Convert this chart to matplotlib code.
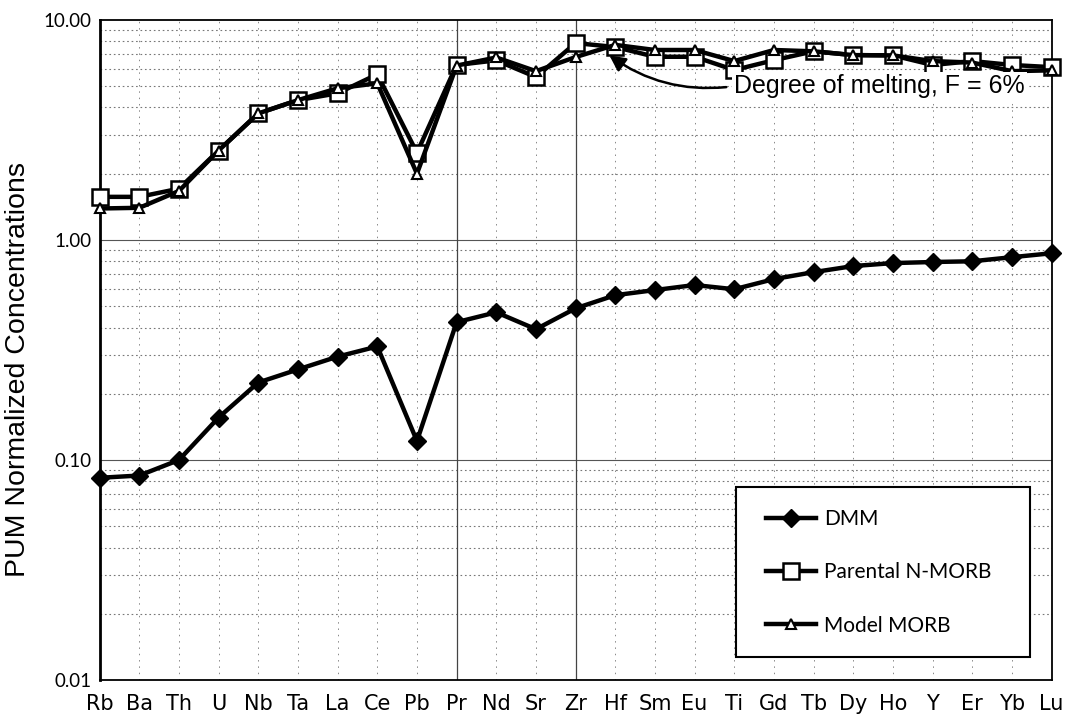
import numpy as np
import matplotlib.pyplot as plt
from matplotlib.patches import Rectangle

# trace elements, ordered by incompatibility
elements = ['Rb', 'Ba', 'Th', 'U', 'Nb', 'Ta', 'La', 'Ce', 'Pb', 'Pr', 'Nd', 'Sr', 'Zr',
            'Hf', 'Sm', 'Eu', 'Ti', 'Gd', 'Tb', 'Dy', 'Ho', 'Y', 'Er', 'Yb', 'Lu']

# PUM normalized concentrations
dmm = [0.083, 0.085, 0.100, 0.156, 0.225, 0.258, 0.295, 0.328, 0.122, 0.423, 0.469, 0.393, 0.489,
       0.561, 0.592, 0.624, 0.597, 0.664, 0.714, 0.761, 0.785, 0.794, 0.800, 0.835, 0.870]
parental_nmorb = [1.57, 1.57, 1.71, 2.55, 3.76, 4.32, 4.64, 5.66, 2.49, 6.24, 6.55, 5.50, 7.85,
                  7.53, 6.80, 6.80, 5.92, 6.56, 7.20, 6.92, 6.90, 6.24, 6.50, 6.24, 6.10]
model_morb = [1.39, 1.40, 1.67, 2.55, 3.76, 4.32, 4.89, 5.15, 2.00, 6.20, 6.75, 5.85, 6.78,
              7.70, 7.30, 7.30, 6.50, 7.30, 7.20, 6.92, 6.90, 6.50, 6.40, 5.85, 5.90]

x = np.arange(len(elements))

fig = plt.figure(figsize=(10.83, 7.27), dpi=100)
ax = fig.add_axes([0.092, 0.0646, 0.879, 0.908])
ax.set_yscale('log')
ax.set_ylim(0.01, 10)
ax.set_xlim(0, len(elements) - 1)

# gridlines
for decade in [0.01, 0.1, 1]:
    for m in range(2, 10):
        ax.axhline(decade * m, color='#777777', lw=0.8, ls=(0, (1.5, 2.5)), zorder=1)
for v in [0.1, 1]:
    ax.axhline(v, color='#555555', lw=0.8, zorder=1)
for i in x[1:-1]:
    if elements[i] in ('Pr', 'Zr'):
        ax.axvline(i, color='#444444', lw=0.9, zorder=1)
    else:
        ax.axvline(i, color='#888888', lw=0.7, ls=(0, (1.5, 5)), zorder=1)

ax.plot(x, dmm, color='black', lw=3.2, marker='D', ms=9, mfc='black', mec='black',
        label='DMM', zorder=3, clip_on=False)
ax.plot(x, parental_nmorb, color='black', lw=3.2, marker='s', ms=12, mfc='white', mec='black',
        mew=1.8, label='Parental N-MORB', zorder=3, clip_on=False)
ax.plot(x, model_morb, color='black', lw=3.2, marker='^', ms=7, mfc='white', mec='black',
        mew=1.5, label='Model MORB', zorder=4, clip_on=False)

ax.set_xticks(x)
ax.set_xticklabels(elements, family=['Liberation Sans Narrow', 'DejaVu Sans'], fontsize=15)
ax.set_yticks([0.01, 0.1, 1, 10])
ax.set_yticklabels(['0.01', '0.10', '1.00', '10.00'], family=['Lato', 'DejaVu Sans'], fontsize=13.5)
ax.minorticks_off()
ax.tick_params(axis='x', length=0, pad=10)
ax.tick_params(axis='y', length=0, pad=6)
ax.set_ylabel('PUM Normalized Concentrations', family=['Liberation Sans', 'DejaVu Sans'],
              fontsize=20.5, labelpad=10)
ax.yaxis.set_label_coords(-0.072, 0.47)

for side in ['left', 'bottom', 'right', 'top']:
    ax.spines[side].set_color('black')
    ax.spines[side].set_linewidth(1.3)
ax.spines['left'].set_linewidth(2)

ax.annotate('Degree of melting, F = 6%', xy=(12.85, 6.9), xytext=(16.0, 5.0),
            fontsize=18, family=['Liberation Sans', 'DejaVu Sans'], va='center', ha='left',
            bbox=dict(boxstyle='square,pad=0.1', fc='white', ec='none'),
            arrowprops=dict(arrowstyle='-|>', color='black', lw=1.8, mutation_scale=24,
                            shrinkA=4, shrinkB=0, relpos=(0, 0.5),
                            connectionstyle='arc3,rad=-0.2'),
            zorder=5)

# legend box
box = Rectangle((0.669, 0.035), 0.308, 0.257, transform=ax.transAxes, fc='white',
                ec='black', lw=1.5, zorder=5)
ax.add_patch(box)
leg = ax.legend(loc='center left', bbox_to_anchor=(0.68, 0.163), frameon=False,
                prop={'family': ['Lato', 'DejaVu Sans'], 'size': 15}, handlelength=2.4,
                handletextpad=0.4, labelspacing=1.6)
leg.set_zorder(6)

fig.savefig('out.png', dpi=100)
